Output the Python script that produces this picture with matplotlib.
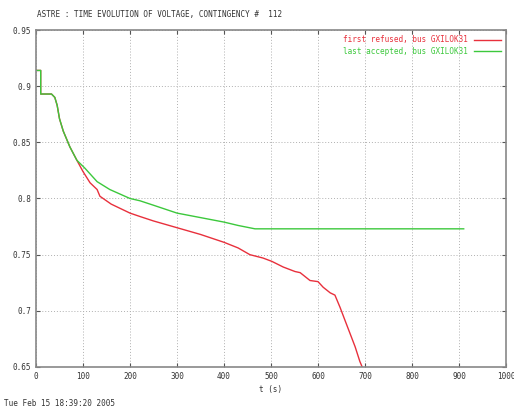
import matplotlib
matplotlib.use("Agg")
import matplotlib.pyplot as plt

title = "ASTRE : TIME EVOLUTION OF VOLTAGE, CONTINGENCY #  112"
footer = "Tue Feb 15 18:39:20 2005"
xlabel = "t (s)"
label_red = "first refused, bus GXILOK31"
label_green = "last accepted, bus GXILOK31"

xticks = [0, 100, 200, 300, 400, 500, 600, 700, 800, 900, 1000]
yticks = [0.65, 0.7, 0.75, 0.8, 0.85, 0.9, 0.95]
ytick_labels = ["0.65", "0.7", "0.75", "0.8", "0.85", "0.9", "0.95"]

t_red = [0, 10, 10, 33, 40, 45, 50, 58, 72, 87, 100, 115, 130, 136, 160, 200, 221, 250, 300,
         350, 400, 430, 455, 483, 502, 526, 551, 562, 583, 600, 611, 626, 636, 647, 657,
         668, 679, 689, 694]
v_red = [0.914, 0.914, 0.893, 0.893, 0.890, 0.883, 0.871, 0.860, 0.846, 0.834, 0.824, 0.814,
         0.808, 0.802, 0.795, 0.787, 0.784, 0.780, 0.774, 0.768, 0.761, 0.756, 0.750, 0.747,
         0.744, 0.739, 0.735, 0.734, 0.727, 0.726, 0.721, 0.716, 0.714, 0.703, 0.692,
         0.680, 0.668, 0.655, 0.650]

t_green = [0, 10, 10, 33, 40, 45, 50, 58, 72, 87, 104, 130, 157, 200, 221, 250, 300, 350, 400,
           430, 466, 600, 750, 910]
v_green = [0.914, 0.914, 0.893, 0.893, 0.890, 0.883, 0.871, 0.860, 0.846, 0.834, 0.827,
           0.815, 0.808, 0.800, 0.798, 0.794, 0.787, 0.783, 0.779, 0.776, 0.773, 0.773,
           0.773, 0.773]

plt.rcParams['font.family'] = ['DejaVu Sans Mono']

fig = plt.figure(figsize=(5.14, 4.12), dpi=100)
ax = fig.add_axes([36/514, 1-367/412, 470/514, 337/412])

red = "#e8303c"
green = "#3cc83c"
ax.plot(t_red, v_red, color=red, lw=1.0, label=label_red)
ax.plot(t_green, v_green, color=green, lw=1.0, label=label_green)

ax.set_xlim(0, 1000)
ax.set_ylim(0.65, 0.95)
ax.set_xticks(xticks)
ax.set_yticks(yticks)
ax.set_yticklabels(ytick_labels)
ax.tick_params(direction='in', labelsize=5.5, length=3, colors='#555555', labelcolor='#333333')
ax.tick_params(top=True, right=True)
ax.grid(True, linestyle=(0, (1, 2)), color='#b0b0b0', lw=0.7)
for s in ax.spines.values():
    s.set_color('#888888')
    s.set_linewidth(1.2)

ax.set_xlabel(xlabel, fontsize=5.5, color='#333333', labelpad=3)
fig.text(37/514, 1-15/412, title, fontsize=5.5, color='#333333', va='center', ha='left')
fig.text(4/514, 1-404/412, footer, fontsize=5.5, color='#333333', va='center', ha='left')

leg = ax.legend(loc='upper right', frameon=False, markerfirst=False, fontsize=5.5,
                handlelength=3.5, borderaxespad=0.3, labelspacing=0.3, handletextpad=0.8)
for txt, c in zip(leg.get_texts(), [red, green]):
    txt.set_color(c)

fig.savefig("out.png", dpi=100)
